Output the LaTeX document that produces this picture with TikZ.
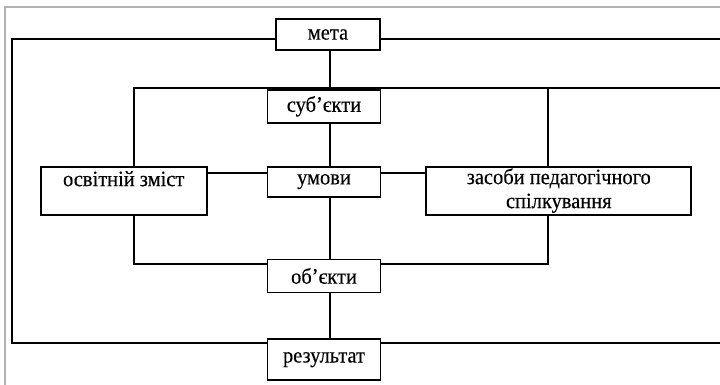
\documentclass[tikz,border=0pt]{standalone}
\usepackage{fontspec}
\setmainfont{Liberation Serif}[FakeStretch=0.93, FakeBold=0.3]
\usetikzlibrary{positioning}

\begin{document}
\begin{tikzpicture}[x=1pt, y=-1pt,
  box/.style={draw, rectangle, line width=1.8pt, inner sep=0pt, minimum width=113pt, minimum height=32pt, font=\fontsize{22}{24}\selectfont},
  wide/.style={box, align=center, minimum height=48pt},
  link/.style={line width=1.8pt}]
  \useasboundingbox (0,0) rectangle (720,385);
  \draw[gray!60, line width=2pt] (5,385) -- (5,7) -- (720,7);

  \node[box, minimum width=104pt, minimum height=31pt] (meta) at (328,34.5) {мета};
  \node[box, minimum height=33pt, below=38pt of meta, xshift=-4pt] (subj) {суб’єкти};
  \node[box, minimum height=30pt, below=42pt of subj] (umovy) {умови};
  \node[box, minimum height=33pt, below=61pt of umovy] (obj) {об’єкти};
  \node[box, minimum height=41pt, below=45pt of obj] (res) {результат};
  \node[wide, minimum width=166pt, left=59pt of umovy.north west, anchor=north east] (osv) {освітній зміст\\ \mbox{}};
  \node[wide, minimum width=265pt, right=44pt of umovy.north east, anchor=north west] (zas) {засоби педагогічного\\ спілкування};

  \coordinate (col) at (330,0);
  \coordinate (tl) at (12,39);
  \coordinate (tr) at (720,39);
  \coordinate (bl) at (12,343);
  \coordinate (br) at (720,343);
  \coordinate (sl) at (134,88);
  \coordinate (sm) at (548,88);
  \coordinate (sr) at (720,88);
  \coordinate (ol) at (134,264);
  \coordinate (or) at (548,264);
  \coordinate (mrow) at (0,173);

  % outer loop
  \draw[link] (tr) -- (meta.east |- tr);
  \draw[link] (meta.west |- tl) -- (tl) -- (bl) -- (res.west |- bl);
  \draw[link] (res.east |- br) -- (br);
  % middle column
  \draw[link] (meta.south -| col) -- (subj.north -| col);
  \draw[link] (subj.south -| col) -- (umovy.north -| col);
  \draw[link] (umovy.south -| col) -- (obj.north -| col);
  \draw[link] (obj.south -| col) -- (res.north -| col);
  % sides
  \draw[link] (sl |- osv.north) -- (sl) -- (sr);
  \draw[link] (sm) -- (sm |- zas.north);
  \draw[link] (osv.south -| ol) -- (ol) -- (obj.west |- ol);
  \draw[link] (obj.east |- or) -- (or) -- (zas.south -| or);
  \draw[link] (osv.east |- mrow) -- (umovy.west |- mrow);
  \draw[link] (umovy.east |- mrow) -- (zas.west |- mrow);
\end{tikzpicture}
\end{document}
